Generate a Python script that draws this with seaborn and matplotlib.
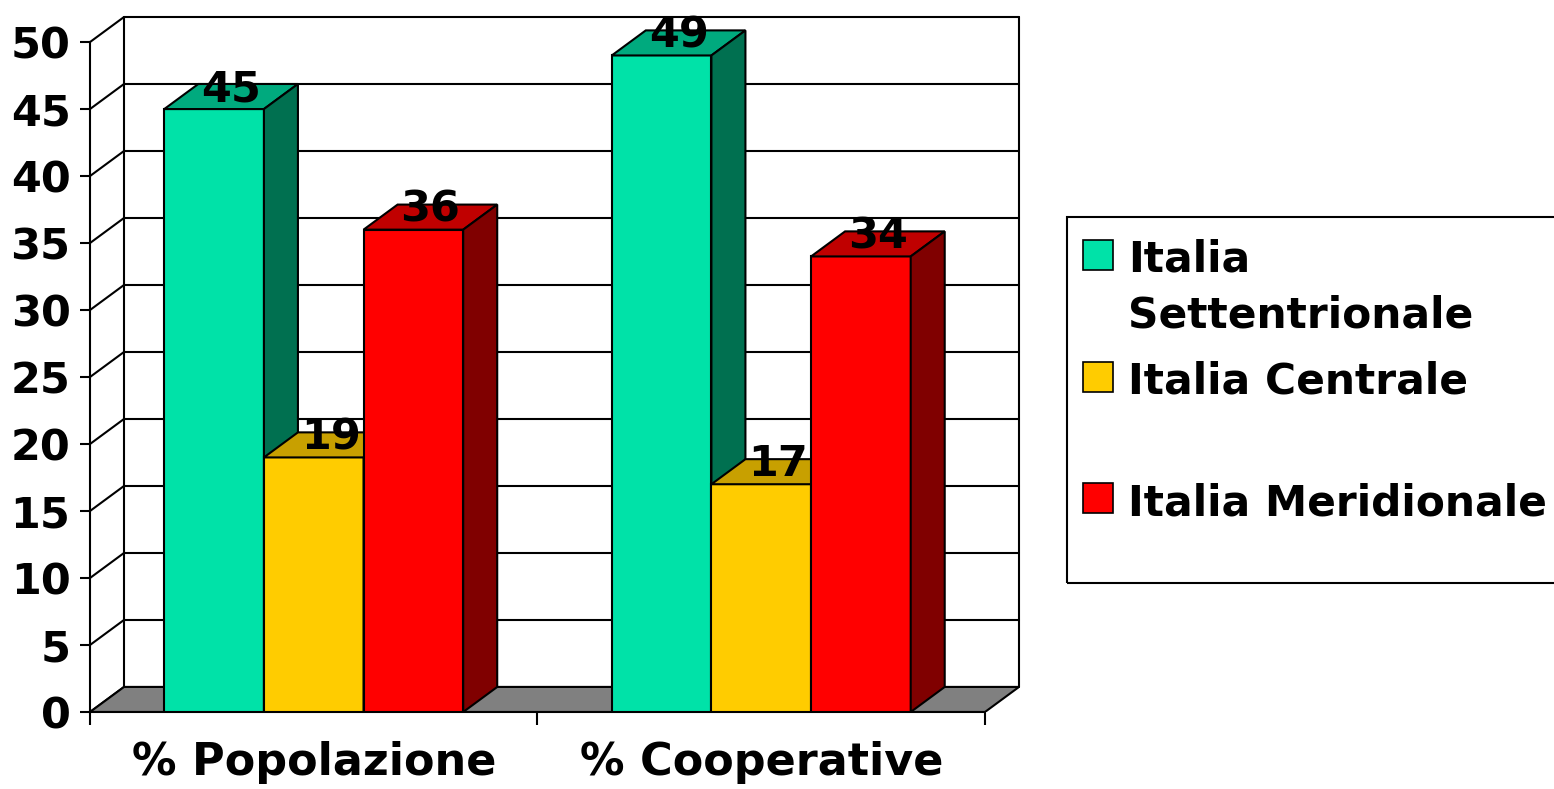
import numpy as np
import pandas as pd
import matplotlib
matplotlib.use("Agg")
import matplotlib.pyplot as plt
import seaborn as sns
from matplotlib.patches import Polygon, Rectangle

# data
categories = ["% Popolazione", "% Cooperative"]
regions = ["Italia Settentrionale", "Italia Centrale", "Italia Meridionale"]
legend_labels = ["Italia\nSettentrionale", "Italia Centrale", "Italia Meridionale"]
popolazione = [45, 19, 36]
cooperative = [49, 17, 34]
y_ticks = [0, 5, 10, 15, 20, 25, 30, 35, 40, 45, 50]

front_colors = ["#00E2A8", "#FFCC00", "#FF0000"]
top_colors = ["#00AA7E", "#C8A000", "#C00000"]
side_colors = ["#007050", "#A08000", "#800000"]

df = pd.DataFrame({
    "categoria": np.repeat(categories, len(regions)),
    "regione": regions * len(categories),
    "valore": popolazione + cooperative,
})

sns.set_style("white")
plt.rcParams["font.family"] = ["DejaVu Sans"]
plt.rcParams["font.weight"] = "bold"
plt.rcParams["text.color"] = "black"
plt.rcParams["xtick.color"] = "black"
plt.rcParams["ytick.color"] = "black"

W, H = 1554, 789
fig = plt.figure(figsize=(W / 100, H / 100), dpi=100)
ax = fig.add_axes([90 / W, (H - 712) / H, (1019 - 90) / W, (712 - 17) / H])

# depth of the fake 3d box (data units)
dx, dy = 0.076, 1.87
ymax = 50

sns.barplot(data=df, x="categoria", y="valore", hue="regione",
            order=categories, hue_order=regions,
            palette=dict(zip(regions, front_colors)), saturation=1,
            width=0.668, gap=0, errorbar=None, edgecolor="black",
            linewidth=1.5, legend=False, ax=ax)
bars = sorted(list(ax.patches), key=lambda p: p.get_x())

ax.set_xlim(-0.5, 1.5 + dx)
ax.set_ylim(0, ymax + dy)

# back wall + left wall
for v in y_ticks:
    ax.plot([-0.5 + dx, 1.5 + dx], [v + dy, v + dy], color="black", lw=1.5, zorder=1, clip_on=False)
    ax.plot([-0.5, -0.5 + dx], [v, v + dy], color="black", lw=1.5, zorder=1, clip_on=False)
for xe in [-0.5 + dx, 1.5 + dx]:
    ax.plot([xe, xe], [dy, ymax + dy], color="black", lw=1.5, zorder=1, clip_on=False)

# floor
floor = Polygon([(-0.5, 0), (-0.5 + dx, dy), (1.5 + dx, dy), (1.5, 0)],
                closed=True, fc="#808080", ec="black", lw=1.5, zorder=2)
ax.add_patch(floor)

# 3d faces for each bar
for i, b in enumerate(bars):
    k = i % len(regions)
    x0 = b.get_x()
    x1 = x0 + b.get_width()
    h = b.get_height()
    b.set_zorder(10 + i)
    top = Polygon([(x0, h), (x0 + dx, h + dy), (x1 + dx, h + dy), (x1, h)], closed=True,
                  fc=top_colors[k], ec="black", lw=1.5, zorder=10 + i + 0.5)
    side = Polygon([(x1, 0), (x1 + dx, dy), (x1 + dx, h + dy), (x1, h)], closed=True,
                   fc=side_colors[k], ec="black", lw=1.5, zorder=10 + i + 0.5)
    ax.add_patch(top)
    ax.add_patch(side)
    ax.text((x0 + x1) / 2 + dx / 2, h + 0.6, f"{h:.0f}", ha="center", va="baseline",
            fontsize=31, fontweight="bold", color="black", zorder=50)

# axes
sns.despine(ax=ax, top=True, right=True)
ax.spines["left"].set_bounds(0, ymax)
ax.spines["bottom"].set_bounds(-0.5, 1.5)
for s in ["left", "bottom"]:
    ax.spines[s].set_linewidth(1.5)
    ax.spines[s].set_color("black")

ax.set_yticks(y_ticks)
ax.tick_params(axis="y", left=True, direction="out", length=7, width=1.5, pad=7,
               labelsize=31, colors="black")
ax.set_xticks([0, 1], categories)
ax.set_xticks([-0.5, 0.5, 1.5], minor=True)
ax.tick_params(axis="x", which="major", length=0, pad=21, labelsize=32, colors="black")
ax.tick_params(axis="x", which="minor", bottom=True, direction="out", length=9, width=1.5)
ax.set_xlabel("")
ax.set_ylabel("")

# legend (excel style)
fig.add_artist(Rectangle((1067 / W, 1 - 583 / H), (1580 - 1067) / W, (583 - 217) / H,
                         transform=fig.transFigure, fill=False, ec="black", lw=1.5))
sq_tops = [240, 362, 483]
base0 = [272, 394, 516]
for lab, col, st, bl in zip(legend_labels, front_colors, sq_tops, base0):
    fig.add_artist(Rectangle((1083 / W, 1 - (st + 30) / H), 30 / W, 30 / H,
                             transform=fig.transFigure, fc=col, ec="black", lw=1.2))
    for j, line in enumerate(lab.split("\n")):
        fig.text(1128 / W, 1 - (bl + 56 * j) / H, line, ha="left", va="baseline",
                 fontsize=30.5, fontweight="bold", color="black")

fig.savefig("out.png", dpi=100)
